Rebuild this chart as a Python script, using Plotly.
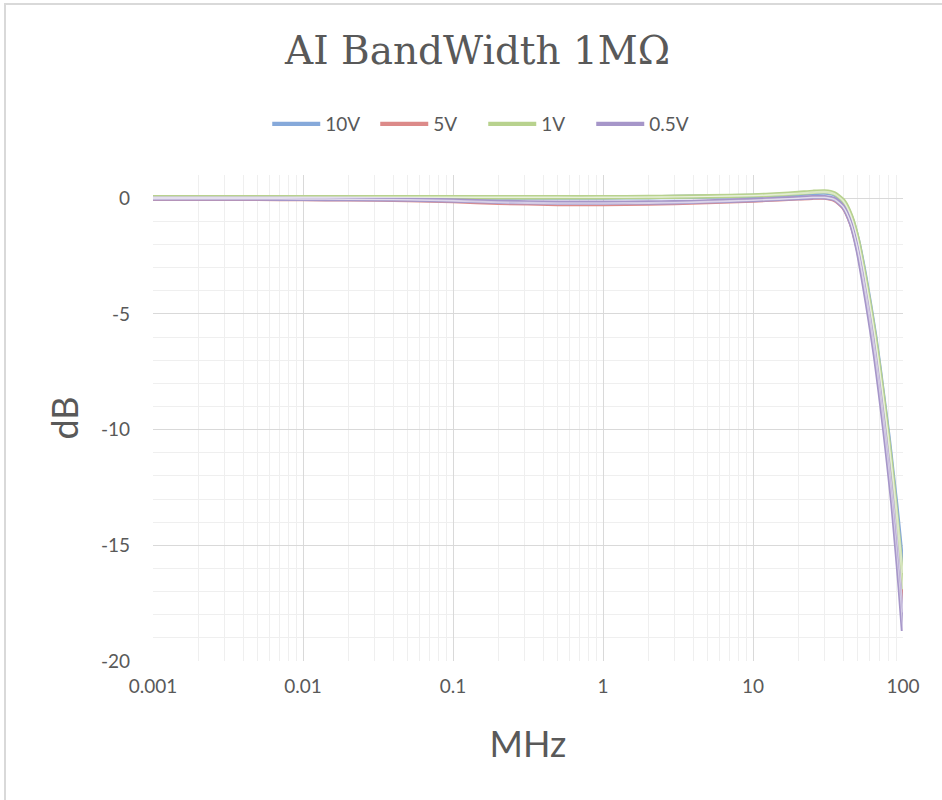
import plotly.graph_objects as go

freq_mhz = [0.001, 0.002, 0.005, 0.01, 0.02, 0.05, 0.1, 0.2, 0.5, 1, 2, 3, 5, 10,
            15, 20, 25, 30, 35, 40, 45, 50, 55, 60, 65, 70, 75, 80, 85, 90, 95, 100]

db_10v = [0.03, 0.03, 0.03, 0.03, 0.03, 0.03, 0.03, 0.03, 0.03, 0.03, 0.04, 0.05, 0.07, 0.1,
          0.14, 0.18, 0.22, 0.24, 0.16, -0.15, -0.8, -1.8, -3.1, -4.5, -5.9, -7.4, -8.9, -10.3,
          -11.8, -13.2, -14.7, -16.2]
db_5v = [-0.03, -0.03, -0.03, -0.04, -0.05, -0.08, -0.13, -0.2, -0.25, -0.25, -0.23, -0.21, -0.17, -0.1,
         -0.05, -0.01, 0.02, 0.02, -0.08, -0.4, -1.1, -2.2, -3.6, -5.0, -6.5, -8.0, -9.6, -11.1,
         -12.7, -14.2, -16.0, -17.9]
db_1v = [0.04, 0.04, 0.04, 0.04, 0.04, 0.04, 0.04, 0.04, 0.04, 0.04, 0.05, 0.06, 0.08, 0.12,
         0.17, 0.22, 0.27, 0.29, 0.2, -0.1, -0.75, -1.8, -3.2, -4.6, -6.0, -7.5, -9.0, -10.5,
         -12.0, -13.6, -15.2, -16.9]
db_05v = [-0.02, -0.02, -0.02, -0.03, -0.04, -0.06, -0.1, -0.16, -0.2, -0.2, -0.19, -0.18, -0.14, -0.08,
          -0.03, 0.0, 0.04, 0.04, -0.05, -0.38, -1.1, -2.3, -3.8, -5.3, -6.8, -8.4, -10.0, -11.6,
          -13.2, -15.0, -16.8, -18.7]

series_names = ["10V", "5V", "1V", "0.5V"]
series_values = [db_10v, db_5v, db_1v, db_05v]
series_colors = ["#86A9DA", "#DC8A89", "#B8D28E", "#A696C9"]

x_tickvals = [0.001, 0.01, 0.1, 1, 10, 100]
x_ticktext = ["0.001", "0.01", "0.1", "1", "10", "100"]
y_tickvals = [0, -5, -10, -15, -20]
y_ticktext = ["0", "-5", "-10", "-15", "-20"]

fig = go.Figure()
for name, vals, col in zip(series_names, series_values, series_colors):
    fig.add_trace(go.Scatter(x=freq_mhz, y=vals, mode="lines", name=name,
                             line=dict(color=col, width=4.4, shape="spline", smoothing=0.6)))
for name, vals, col in zip(series_names, series_values, series_colors):
    fig.add_trace(go.Scatter(x=freq_mhz, y=vals, mode="lines", showlegend=False,
                             hoverinfo="skip", opacity=0.5,
                             line=dict(color="white", width=1.2, shape="spline", smoothing=0.6)))

tick_font = dict(family="Lato, 'Open Sans', sans-serif", size=19, color="#595959")
title_font = dict(family="Lato, sans-serif", size=36, color="#595959")

fig.update_layout(
    width=942, height=800,
    paper_bgcolor="white", plot_bgcolor="white",
    margin=dict(l=153, r=39, t=175, b=139),
    title=dict(text="AI BandWidth 1MΩ", x=0.507, xref="container", xanchor="center",
               y=0.9375, yref="container", yanchor="middle",
               font=dict(family="'DejaVu Serif', serif", size=39, color="#595959")),
    legend=dict(orientation="h", xref="container", x=0.513, xanchor="center",
                yref="container", y=0.845, yanchor="middle",
                font=tick_font, itemwidth=48, entrywidth=45, tracegroupgap=0),
    xaxis=dict(type="log", range=[-3, 2], tickvals=x_tickvals, ticktext=x_ticktext,
               showgrid=True, gridcolor="#D9D9D9", gridwidth=1,
               minor=dict(showgrid=True, gridcolor="#EFEFEF", dtick="D1", gridwidth=1),
               showline=False, zeroline=False, ticks="", tickfont=tick_font, ticklabelstandoff=12,
               title=dict(text="MHz", font=title_font, standoff=35)),
    yaxis=dict(range=[-20, 1], tickvals=y_tickvals, ticktext=y_ticktext,
               showgrid=True, gridcolor="#D9D9D9", gridwidth=1,
               minor=dict(showgrid=True, gridcolor="#EFEFEF", dtick=1, gridwidth=1),
               showline=False, zeroline=False, ticks="", tickfont=tick_font, ticklabelstandoff=22,
               title=dict(text="dB", font=title_font, standoff=11)),
)

# outer chart border (light gray frame)
fig.add_shape(type="rect", xref="paper", yref="paper",
              x0=(5 - 153) / 750, x1=(942 - 153 + 10) / 750,
              y0=-(800 - 661 + 10) / 486, y1=1 + (175 - 4) / 486,
              line=dict(color="#D9D9D9", width=2), fillcolor="rgba(0,0,0,0)", layer="below")

fig.write_html("out.html", config={"displayModeBar": False},
               post_script="document.body.style.margin='0';")
